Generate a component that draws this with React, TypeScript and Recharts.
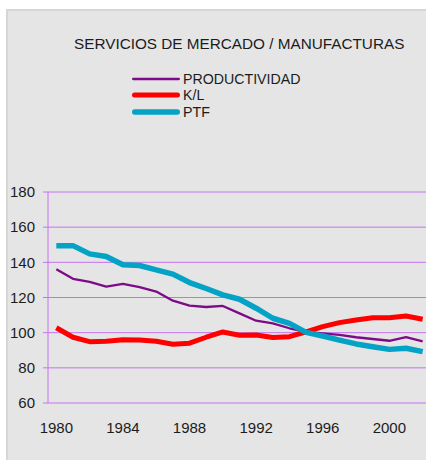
import React from 'react';
import { LineChart, Line, XAxis, YAxis, CartesianGrid, Legend } from 'recharts';

const years = [
  1980, 1981, 1982, 1983, 1984, 1985, 1986, 1987, 1988, 1989, 1990, 1991,
  1992, 1993, 1994, 1995, 1996, 1997, 1998, 1999, 2000, 2001, 2002,
];

const productividad = [
  136.1, 130.6, 128.9, 126.2, 127.7, 125.9, 123.4, 118.2, 115.4, 114.6, 115.2, 111.0,
  106.8, 105.3, 102.5, 100.4, 99.6, 98.7, 97.4, 96.4, 95.4, 97.4, 95.1,
];

const kl = [
  102.8, 97.4, 94.9, 95.1, 96.0, 95.8, 95.1, 93.4, 94.0, 97.4, 100.4, 98.5,
  98.7, 97.2, 97.7, 100.4, 103.4, 105.7, 107.2, 108.5, 108.5, 109.5, 107.6,
];

const ptf = [
  149.5, 149.5, 144.8, 143.3, 138.6, 138.2, 135.7, 133.3, 128.5, 125.1, 121.5, 119.0,
  113.9, 108.2, 105.3, 100.2, 98.1, 95.8, 93.6, 92.0, 90.5, 91.1, 89.2,
];

// category boundaries (gridlines / tick marks) and label positions
const boundaryTicks = [1979.5, 1983.5, 1987.5, 1991.5, 1995.5, 1999.5];
const labelTicks = [1980, 1984, 1988, 1992, 1996, 2000];
const yTicks = [60, 80, 100, 120, 140, 160, 180];

const title = 'SERVICIOS DE MERCADO / MANUFACTURAS';

const series = [
  { key: 'productividad', name: 'PRODUCTIVIDAD', color: '#7d0a86', width: 2.3 },
  { key: 'kl', name: 'K/L', color: '#ff0000', width: 5 },
  { key: 'ptf', name: 'PTF', color: '#04a3c6', width: 5.5 },
];

const data = years.map((year, i) => ({
  year,
  productividad: productividad[i],
  kl: kl[i],
  ptf: ptf[i],
}));

const FONT = 'Liberation Sans, Arial, Helvetica, sans-serif';
const GRID = '#c572f2';

function LegendBox() {
  return (
    <div style={{ fontFamily: FONT, fontSize: 14.2, color: '#1c1c1c' }}>
      {series.map((s) => (
        <div key={s.key} style={{ display: 'flex', alignItems: 'center', height: 16.6 }}>
          <svg width={52} height={10} style={{ display: 'block' }}>
            <line
              x1={s.width / 2 + 1}
              x2={49 - s.width / 2}
              y1={5}
              y2={5}
              stroke={s.color}
              strokeWidth={s.width}
              strokeLinecap="round"
            />
          </svg>
          <span style={{ lineHeight: '16px' }}>{s.name}</span>
        </div>
      ))}
    </div>
  );
}

export default function App() {
  return (
    <div
      style={{
        position: 'fixed',
        left: 0,
        top: 0,
        width: 426,
        height: 460,
        overflow: 'hidden',
        background: '#ffffff',
      }}
    >
      <div
        style={{
          position: 'absolute',
          left: 6,
          top: 9,
          width: 440,
          height: 470,
          background: '#e5e5e5',
          borderTop: '2px solid #d6d6d6',
          borderLeft: '2px solid #d6d6d6',
        }}
      />
      <div
        style={{
          position: 'absolute',
          left: 74,
          top: 35,
          fontFamily: FONT,
          fontSize: 15.3,
          color: '#1c1c1c',
          whiteSpace: 'nowrap',
        }}
      >
        {title}
      </div>
      <div style={{ position: 'absolute', left: 0, top: 0 }}>
        <LineChart
          width={431}
          height={460}
          data={data}
          margin={{ top: 192, right: 0, bottom: 27, left: 8 }}
        >
          <CartesianGrid stroke={GRID} strokeWidth={1} />
          <XAxis
            xAxisId={0}
            dataKey="year"
            type="number"
            domain={[1979.5, 2002.5]}
            ticks={boundaryTicks}
            height={0}
            tick={false}
            tickSize={5}
            tickLine={{ stroke: '#a53cc4' }}
            axisLine={{ stroke: '#a53cc4', strokeWidth: 2 }}
          />
          <XAxis
            xAxisId="labels"
            dataKey="year"
            type="number"
            domain={[1979.5, 2002.5]}
            ticks={labelTicks}
            height={30}
            tickLine={false}
            axisLine={false}
            tickMargin={13}
            tick={{ fill: '#1c1c1c', fontSize: 15, fontFamily: FONT }}
          />
          <YAxis
            domain={[60, 180]}
            ticks={yTicks}
            width={40}
            axisLine={false}
            tickSize={5}
            tickMargin={8}
            tickLine={{ stroke: GRID }}
            tick={{ fill: '#1c1c1c', fontSize: 15, fontFamily: FONT }}
          />
          <Legend
            layout="vertical"
            align="center"
            verticalAlign="middle"
            wrapperStyle={{ left: 131, top: 70.5, width: 200 }}
            content={() => <LegendBox />}
          />
          {series.map((s) => (
            <Line
              key={s.key}
              xAxisId={0}
              type="linear"
              dataKey={s.key}
              name={s.name}
              stroke={s.color}
              strokeWidth={s.width}
              strokeLinejoin="round"
              dot={false}
              activeDot={false}
              isAnimationActive={false}
            />
          ))}
        </LineChart>
      </div>
    </div>
  );
}
